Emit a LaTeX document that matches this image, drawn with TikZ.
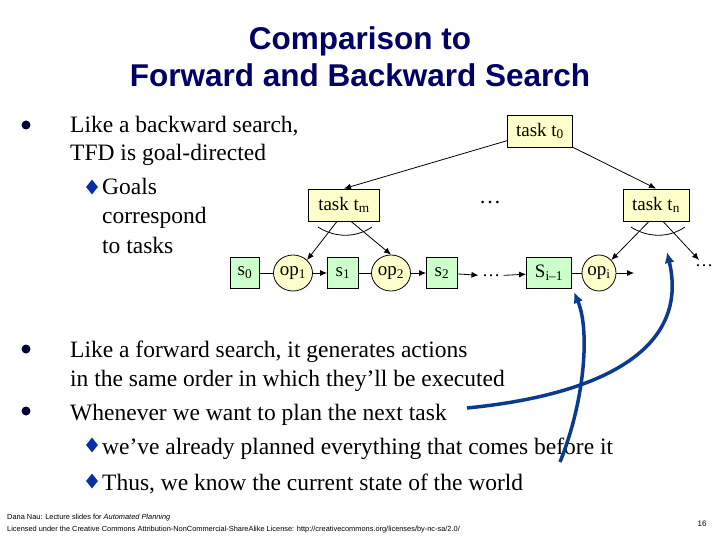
\documentclass[tikz,border=0pt]{standalone}
\usepackage{fontspec}
\setmainfont{Liberation Serif}
\newfontfamily\arial{Liberation Sans}
\usetikzlibrary{shapes.geometric,arrows.meta}
\definecolor{navy}{HTML}{000066}
\definecolor{barrow}{HTML}{0B3B8F}
\definecolor{tasky}{HTML}{FFFFCC}
\definecolor{stateg}{HTML}{CCFFCC}
\begin{document}
\begin{tikzpicture}[x=1pt,y=-1pt,
  txt/.style={anchor=base west,inner sep=0pt,font=\fontsize{23.5}{26}\selectfont},
  lbl/.style={font=\fontsize{19}{20}\selectfont},
  taskbox/.style={draw,thick,fill=tasky,minimum height=32,inner sep=1pt,lbl},
  statebox/.style={draw,thick,fill=stateg,minimum height=31,inner sep=0pt,lbl},
  opnode/.style={draw,thick,fill=tasky,ellipse,minimum width=39,minimum height=36,inner sep=0pt,lbl},
  arr/.style={-{Latex[length=7pt,width=6pt]},thick},
  ln/.style={thick},
  barr/.style={barrow,line width=3.5pt,-{Latex[length=11pt,width=10pt]}},
  dot/.style={circle,fill=navy!50!black,inner sep=0pt,minimum size=9pt},
  dia/.style={diamond,fill=barrow!80!blue,inner sep=0pt,minimum width=12pt,minimum height=15pt}]
\useasboundingbox (0,0) rectangle (720,540);
\fill[white] (0,0) rectangle (720,540);
% title
\node[font=\arial\bfseries\fontsize{31.5}{37}\selectfont,text=navy,align=center] (title) at (360,57) {Comparison to\\Forward and Backward Search};
% text
\node[dot] (b1) at (26,125) {};
\node[txt] (t1) at (70,133) {Like a backward search,};
\node[txt] (t2) at (70,161) {TFD is goal-directed};
\node[dia] (d1) at (92,187) {};
\node[txt] (t3) at (102,195) {Goals};
\node[txt] (t4) at (102,224) {correspond};
\node[txt] (t5) at (102,253) {to tasks};
\node[dot] (b2) at (26,349) {};
\node[txt] (t6) at (70,357) {Like a forward search, it generates actions};
\node[txt] (t7) at (70,386) {in the same order in which they’ll be executed};
\node[dot] (b3) at (26,411) {};
\node[txt] (t8) at (70,420) {Whenever we want to plan the next task};
\node[dia] (d2) at (92,445) {};
\node[txt] (t9) at (102,454) {we’ve already planned everything that comes before it};
\node[dia] (d3) at (92,481) {};
\node[txt] (t10) at (102,490) {Thus, we know the current state of the world};
% tree
\node[taskbox,minimum width=65] (t0) at (540,131) {task t\textsubscript{0}};
\node[taskbox,minimum width=71] (tm) at (344,205) {task t\textsubscript{m}};
\node[taskbox,minimum width=66] (tn) at (656,205) {task t\textsubscript{n}};
\node[font=\fontsize{22}{22}\selectfont] (md) at (490,203) {\ldots};
\node[statebox,minimum width=29] (s0) at (245,273) {s\textsubscript{0}};
\node[opnode] (op1) at (293,273) {op\textsubscript{1}};
\node[statebox,minimum width=31] (s1) at (343,273) {s\textsubscript{1}};
\node[opnode] (op2) at (391,273) {op\textsubscript{2}};
\node[statebox,minimum width=31] (s2) at (442,273) {s\textsubscript{2}};
\node[font=\fontsize{18}{18}\selectfont] (bd) at (491,276) {\ldots};
\node[statebox,minimum width=45] (si) at (549,273) {S\textsubscript{i--1}};
\node[opnode,minimum width=34] (opi) at (599,273) {op\textsubscript{i}};
\coordinate (end) at (634,273);
\node[font=\fontsize{18}{18}\selectfont] (rd) at (704,266) {\ldots};
\coordinate (rt) at (699,260);
\draw[arr] (t0) -- (tm.north);
\draw[arr] (t0) -- (tn.north);
\draw[arr] (tm.south) ++(-7,0) coordinate (a1) -- (op1.north east);
\draw[arr] (tm.south) ++(7,0) coordinate (a2) -- (op2.north);
\draw[arr] (tn.south) ++(-7,0) -- (opi.north east);
\draw[arr] (tn.south) ++(7,0) -- (rt);
\draw[thick] (318,227) .. controls (335,238) and (356,238) .. (372,227);
\draw[thick] (631,227) .. controls (648,238) and (669,238) .. (685,227);
\draw[ln] (s0) -- (op1);
\draw[arr] (op1) -- (s1);
\draw[ln] (s1) -- (op2);
\draw[arr] (op2) -- (s2);
\draw[arr] (s2) -- (bd);
\draw[arr] (bd) -- (si);
\draw[ln] (si) -- (opi);
\draw[arr] (opi) -- (end);
% blue arrows
\coordinate (w) at (467,408);
\coordinate (c) at (560,462);
\draw[barr] (w) .. controls (600,395) and (690,350) .. (667,252);
\draw[barr] (c) .. controls (585,400) and (590,330) .. (574,292);
% footer
\node[anchor=base west,inner sep=0pt,font=\arial\fontsize{7.4}{9}\selectfont] (f1) at (7,519) {Dana Nau: Lecture slides for \textit{Automated Planning}};
\node[anchor=base west,inner sep=0pt,font=\arial\fontsize{7.4}{9}\selectfont] (f2) at (7,531) {Licensed under the Creative Commons Attribution-NonCommercial-ShareAlike License: http://creativecommons.org/licenses/by-nc-sa/2.0/};
\node[font=\arial\fontsize{8}{10}\selectfont] (pg) at (702,524) {16};
\end{tikzpicture}
\end{document}
